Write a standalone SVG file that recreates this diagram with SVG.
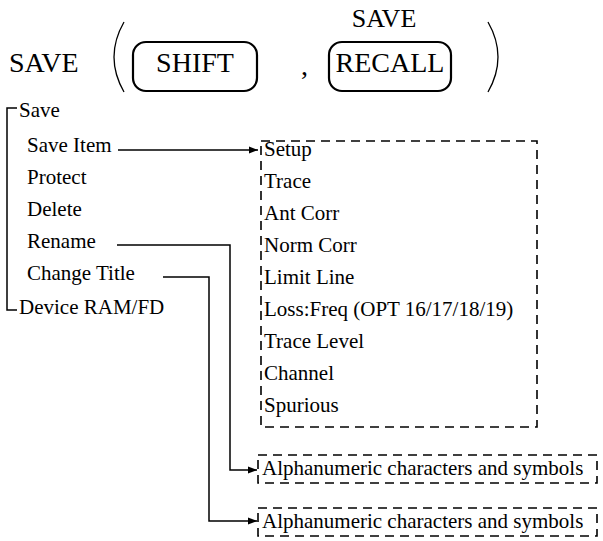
<svg xmlns="http://www.w3.org/2000/svg" width="603" height="541" viewBox="0 0 603 541">
<style>
text{font-family:"Liberation Serif",Tinos,"Times New Roman","DejaVu Serif",serif;fill:#000}
.big{font-size:28px}
.it{font-size:21px}
.key{fill:none;stroke:#000;stroke-width:2.2}
.par{fill:none;stroke:#000;stroke-width:1.3}
.dash{fill:none;stroke:#000;stroke-width:1.6;stroke-dasharray:9 6}
.ln{fill:none;stroke:#000;stroke-width:1.5}
</style>
<defs>
<marker id="ah" viewBox="0 0 10 10" refX="10" refY="5" markerWidth="9" markerHeight="9" markerUnits="userSpaceOnUse" orient="auto">
<path d="M0,1 L10,5 L0,9 Z" fill="#000"/>
</marker>
</defs>
<g id="title">
<text class="big" x="9" y="72">SAVE</text>
<path class="par" d="M124,22 Q104,57 124,92"/>
<path class="par" d="M488,22 Q508,57 488,92"/>
<text class="big" x="301" y="75">,</text>
</g>
<g id="key-shift">
<rect class="key" x="133" y="42" width="124" height="49" rx="13"/>
<text class="big" x="195" y="72" text-anchor="middle">SHIFT</text>
</g>
<g id="key-recall">
<rect class="key" x="329" y="42" width="122" height="49" rx="13"/>
<text class="big" x="390" y="72" text-anchor="middle">RECALL</text>
<text class="big" x="384" y="27" text-anchor="middle" style="font-size:26px">SAVE</text>
</g>
<g id="menu">
<path class="ln" d="M17,108 H7 V310 H17"/>
<text class="it" x="19" y="117">Save</text>
<text class="it" x="27" y="152">Save Item</text>
<text class="it" x="27" y="184">Protect</text>
<text class="it" x="27" y="216">Delete</text>
<text class="it" x="27" y="248">Rename</text>
<text class="it" x="27" y="280">Change Title</text>
<text class="it" x="19" y="314">Device RAM/FD</text>
</g>
<g id="items">
<rect class="dash" x="261" y="141" width="276" height="286"/>
<text class="it" x="264" y="156">Setup</text>
<text class="it" x="264" y="188">Trace</text>
<text class="it" x="264" y="220">Ant Corr</text>
<text class="it" x="264" y="252">Norm Corr</text>
<text class="it" x="264" y="284">Limit Line</text>
<text class="it" x="264" y="316">Loss:Freq (OPT 16/17/18/19)</text>
<text class="it" x="264" y="348">Trace Level</text>
<text class="it" x="264" y="380">Channel</text>
<text class="it" x="264" y="412">Spurious</text>
</g>
<g id="alpha1">
<rect class="dash" x="258" y="455" width="339" height="28"/>
<text class="it" x="262" y="475">Alphanumeric characters and symbols</text>
</g>
<g id="alpha2">
<rect class="dash" x="258" y="508" width="339" height="28"/>
<text class="it" x="262" y="528">Alphanumeric characters and symbols</text>
</g>
<g id="connectors">
<path class="ln" d="M118,150 H258" marker-end="url(#ah)"/>
<path class="ln" d="M117,245 H230 V470 H257" marker-end="url(#ah)"/>
<path class="ln" d="M163,277 H209 V521 H257" marker-end="url(#ah)"/>
</g>
</svg>
